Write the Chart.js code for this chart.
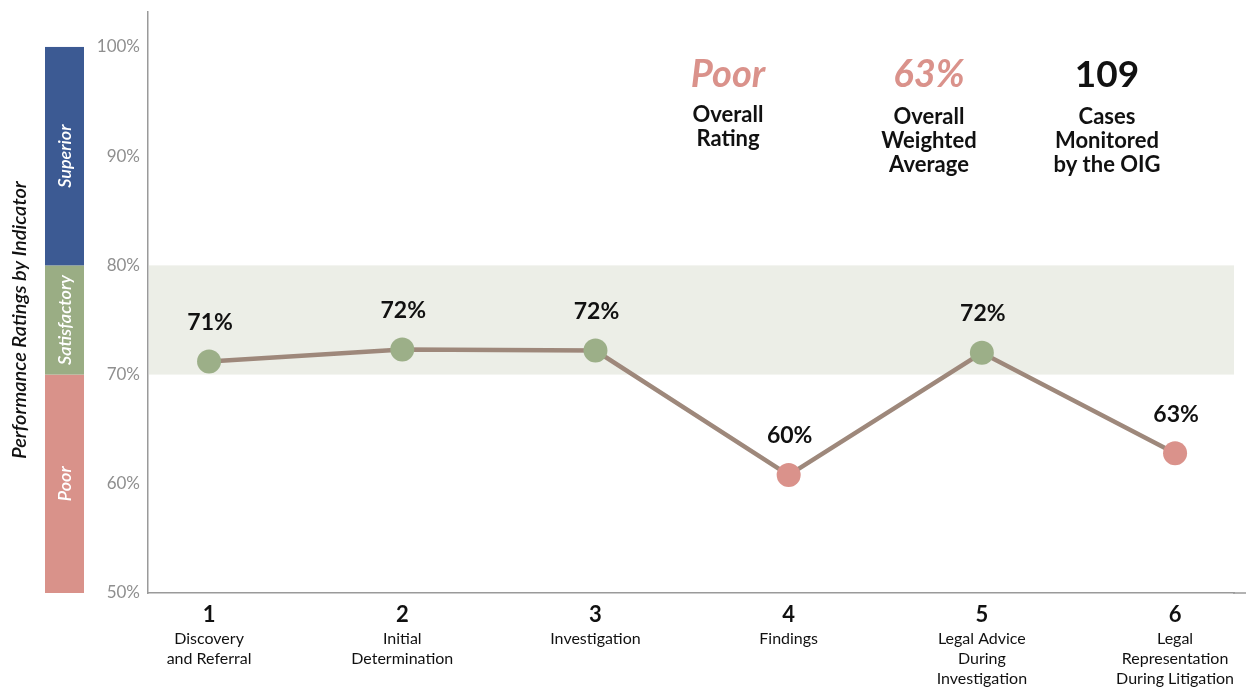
<!DOCTYPE html>
<html>
<head>
<meta charset="utf-8">
<script src="https://cdn.jsdelivr.net/npm/chart.js@4.4.1/dist/chart.umd.min.js"></script>
<style>
  html, body { margin: 0; padding: 0; background: #fff; overflow: hidden; }
  canvas { display: block; }
</style>
</head>
<body>
<canvas id="ratingChart" width="1246" height="687"></canvas>
<script>
// indicators along the x axis
const indicatorNumbers = [1, 2, 3, 4, 5, 6];
const indicatorNames = [
  ["Discovery", "and Referral"],
  ["Initial", "Determination"],
  ["Investigation"],
  ["Findings"],
  ["Legal Advice", "During", "Investigation"],
  ["Legal", "Representation", "During Litigation"]
];
// scores (percent)
const scores = [71.2, 72.3, 72.2, 60.8, 72.0, 62.8];
const scoreLabels = ["71%", "72%", "72%", "60%", "72%", "63%"];
const yTicks = [50, 60, 70, 80, 90, 100];

// rating bands on the left
const bandNames = ["Poor", "Satisfactory", "Superior"];
const bandFrom = [50, 70, 80];
const bandTo = [70, 80, 100];

// summary figures top right
const summaryValues = ["Poor", "63%", "109"];
const summaryCaptions = [
  ["Overall", "Rating"],
  ["Overall", "Weighted", "Average"],
  ["Cases", "Monitored", "by the OIG"]
];

const FONT = "Lato, 'Open Sans', sans-serif";
const bandColors = ["#d9928a", "#9aad84", "#3c5a93"];
const GREEN = "#9caf88";
const PINK = "#da928b";

const decorations = {
  id: "decorations",
  beforeDatasetsDraw(chart) {
    const { ctx, chartArea, scales } = chart;
    const y = scales.y;
    ctx.save();
    // satisfactory band behind the line
    ctx.fillStyle = "#eceee7";
    const top = y.getPixelForValue(80), bot = y.getPixelForValue(70);
    ctx.fillRect(chartArea.left + 1, top, 1233 - chartArea.left, bot - top);
    // x axis line runs to the right edge
    ctx.strokeStyle = "#9a9a9a";
    ctx.lineWidth = 1.5;
    ctx.beginPath();
    ctx.moveTo(chartArea.right - 1, chartArea.bottom);
    ctx.lineTo(chart.width, chartArea.bottom);
    ctx.stroke();
    ctx.restore();
  },
  afterDatasetsDraw(chart) {
    const { ctx, scales } = chart;
    const x = scales.x, y = scales.y;
    ctx.save();

    // colour bar with band names
    bandNames.forEach((name, i) => {
      const t = y.getPixelForValue(bandTo[i]);
      const b = y.getPixelForValue(bandFrom[i]);
      ctx.fillStyle = bandColors[i];
      ctx.fillRect(45, t, 39, b - t);
      ctx.save();
      ctx.translate(64.5, (t + b) / 2);
      ctx.rotate(-Math.PI / 2);
      ctx.fillStyle = "#fff";
      ctx.font = "italic 600 18px " + FONT;
      ctx.textAlign = "center";
      ctx.textBaseline = "middle";
      ctx.fillText(name, 0, 1);
      ctx.restore();
    });

    // axis title
    ctx.save();
    ctx.translate(20, 320);
    ctx.rotate(-Math.PI / 2);
    ctx.fillStyle = "#111";
    ctx.font = "italic 600 20px " + FONT;
    ctx.textAlign = "center";
    ctx.textBaseline = "middle";
    ctx.fillText("Performance Ratings by Indicator", 0, 0);
    ctx.restore();

    // value labels above points
    ctx.fillStyle = "#111";
    ctx.font = "bold 23px " + FONT;
    ctx.textAlign = "center";
    ctx.textBaseline = "middle";
    scores.forEach((v, i) => {
      ctx.fillText(scoreLabels[i], x.getPixelForValue(indicatorNumbers[i]) + 1, y.getPixelForValue(v) - 39);
    });

    // x axis labels
    indicatorNumbers.forEach((n, i) => {
      const px = x.getPixelForValue(n);
      ctx.fillStyle = "#111";
      ctx.font = "bold 22px " + FONT;
      ctx.fillText(String(n), px, 615);
      ctx.font = "16px " + FONT;
      indicatorNames[i].forEach((line, j) => {
        ctx.fillText(line, px, 639 + j * 20);
      });
    });

    // summary block
    const centers = [728, 929, 1107];
    summaryValues.forEach((val, i) => {
      const cx = centers[i];
      if (i < 2) {
        ctx.fillStyle = PINK;
        ctx.font = "italic bold 38px " + FONT;
      } else {
        ctx.fillStyle = "#111";
        ctx.font = "bold 37px " + FONT;
      }
      ctx.fillText(val, cx, 75);
      ctx.fillStyle = "#111";
      ctx.font = "bold 22px " + FONT;
      summaryCaptions[i].forEach((line, j) => {
        ctx.fillText(line, cx, (i === 0 ? 115 : 117) + j * 24);
      });
    });
    ctx.restore();
  }
};

new Chart(document.getElementById("ratingChart"), {
  type: "line",
  data: {
    datasets: [{
      data: indicatorNumbers.map((n, i) => ({ x: n, y: scores[i] })),
      borderColor: "#9e887b",
      borderWidth: 4.5,
      tension: 0,
      pointRadius: 12,
      pointHoverRadius: 12,
      pointBorderWidth: 0,
      pointBackgroundColor: scores.map(v => v >= 70 ? GREEN : PINK),
      clip: false
    }]
  },
  options: {
    responsive: false,
    animation: false,
    devicePixelRatio: 1,
    layout: { padding: { top: 7, left: 0, right: 0, bottom: 0 } },
    plugins: { legend: { display: false }, tooltip: { enabled: false } },
    scales: {
      x: {
        type: "linear",
        min: 0.684,
        max: 6.305,
        grid: { display: false },
        border: { display: true, color: "#9a9a9a", width: 1.5 },
        ticks: { display: false },
        afterFit(scale) { scale.height = 94; }
      },
      y: {
        min: 50,
        max: 103.2,
        grid: { display: false },
        border: { display: true, color: "#9a9a9a", width: 1.5 },
        afterBuildTicks(scale) { scale.ticks = yTicks.map(v => ({ value: v })); },
        ticks: {
          color: "#8f8f8f",
          padding: 0,
          font: { family: FONT, size: 17 },
          callback: v => v + "%"
        },
        afterFit(scale) { scale.width = 148; }
      }
    }
  },
  plugins: [decorations]
});
</script>
</body>
</html>
